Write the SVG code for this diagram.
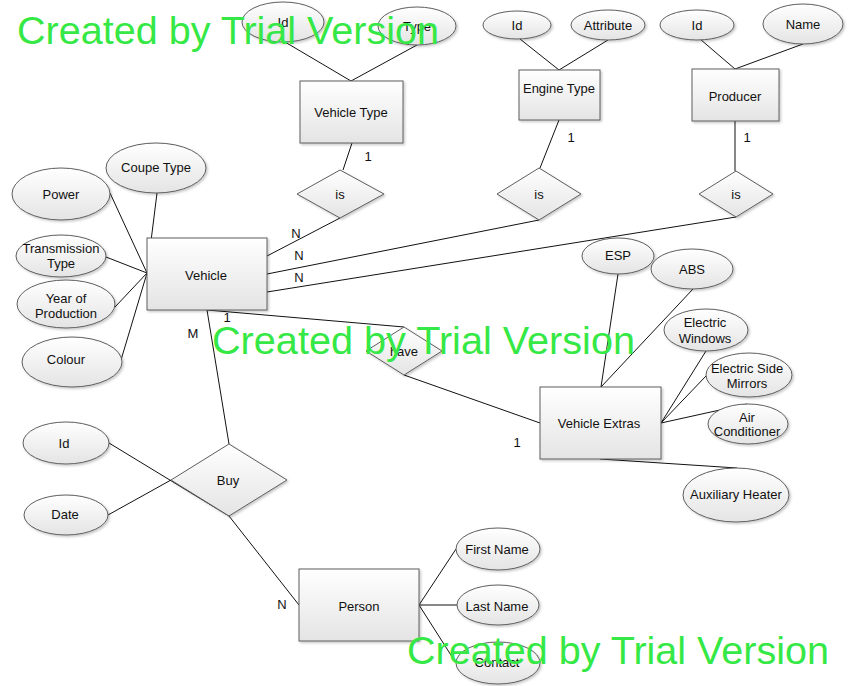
<svg xmlns="http://www.w3.org/2000/svg" width="849" height="686" viewBox="0 0 849 686">
<defs>
<linearGradient id="g" x1="0" y1="0" x2="0" y2="1">
<stop offset="0" stop-color="#ffffff"/>
<stop offset="1" stop-color="#e4e4e4"/>
</linearGradient>
<filter id="sh" x="-10%" y="-10%" width="130%" height="130%">
<feDropShadow dx="1.5" dy="1.5" stdDeviation="1" flood-color="#000" flood-opacity="0.22"/>
</filter>
</defs>
<style>
.s{fill:url(#g);stroke:#5e5e5e;stroke-width:1;filter:url(#sh)}
.t{font-family:"Liberation Sans",Arial,sans-serif;font-size:13px;fill:#111;text-anchor:middle;dominant-baseline:central}
.c{font-family:"Liberation Sans",Arial,sans-serif;font-size:13px;fill:#111;text-anchor:middle;dominant-baseline:central}
.l{stroke:#111;stroke-width:1;fill:none}
.w{font-family:"Liberation Sans",Arial,sans-serif;font-size:38px;fill:#35e845}
</style>
<rect width="849" height="686" fill="#ffffff"/>
<g id="connectors">
<line class="l" x1="285" y1="42" x2="351" y2="81"/>
<line class="l" x1="417" y1="45" x2="351" y2="81"/>
<line class="l" x1="352" y1="143" x2="343" y2="170"/>
<line class="l" x1="520" y1="39" x2="559" y2="70"/>
<line class="l" x1="608" y1="40" x2="559" y2="70"/>
<line class="l" x1="559" y1="120" x2="540" y2="168"/>
<line class="l" x1="700" y1="39" x2="735" y2="69"/>
<line class="l" x1="803" y1="44" x2="735" y2="69"/>
<line class="l" x1="735" y1="121" x2="735" y2="171"/>
<line class="l" x1="267" y1="256" x2="340" y2="218"/>
<line class="l" x1="267" y1="274" x2="539" y2="220"/>
<line class="l" x1="267" y1="292" x2="736" y2="217"/>
<line class="l" x1="157" y1="193" x2="147" y2="273"/>
<line class="l" x1="110" y1="193" x2="147" y2="273"/>
<line class="l" x1="106" y1="257" x2="147" y2="273"/>
<line class="l" x1="115" y1="307" x2="147" y2="273"/>
<line class="l" x1="121" y1="360" x2="147" y2="273"/>
<line class="l" x1="207" y1="310" x2="404" y2="327"/>
<line class="l" x1="404" y1="375" x2="540" y2="423"/>
<line class="l" x1="207" y1="310" x2="229" y2="444"/>
<line class="l" x1="618" y1="274" x2="601" y2="387"/>
<line class="l" x1="693" y1="289" x2="601" y2="387"/>
<line class="l" x1="706" y1="351" x2="661" y2="423"/>
<line class="l" x1="706" y1="376" x2="661" y2="423"/>
<line class="l" x1="747" y1="404" x2="661" y2="423"/>
<line class="l" x1="600" y1="459" x2="737" y2="468"/>
<line class="l" x1="109" y1="443" x2="229" y2="516"/>
<line class="l" x1="108" y1="515" x2="171" y2="480"/>
<line class="l" x1="229" y1="516" x2="299" y2="605"/>
<line class="l" x1="419" y1="605" x2="456" y2="549"/>
<line class="l" x1="419" y1="605" x2="457" y2="605"/>
<line class="l" x1="419" y1="605" x2="456" y2="663"/>
<text class="c" x="368" y="156">1</text>
<text class="c" x="571" y="137">1</text>
<text class="c" x="747" y="137">1</text>
<text class="c" x="296" y="233">N</text>
<text class="c" x="299" y="255">N</text>
<text class="c" x="299" y="277">N</text>
<text class="c" x="227" y="317">1</text>
<text class="c" x="517" y="442">1</text>
<text class="c" x="193" y="333">M</text>
<text class="c" x="282" y="604">N</text>
</g>
<g id="vehicle-type"><rect class="s" x="300" y="81" width="103" height="62"/><text class="t" x="351" y="112">Vehicle Type</text></g>
<g id="vt-id"><ellipse class="s" cx="283" cy="22" rx="41" ry="20"/><text class="t" x="283" y="22">Id</text></g>
<g id="vt-type"><ellipse class="s" cx="417" cy="26" rx="39" ry="19"/><text class="t" x="417" y="26">Type</text></g>
<g id="vt-is"><polygon class="s" points="297,194 340,170 384,194 340,218"/><text class="t" x="340" y="194">is</text></g>
<g id="engine-type"><rect class="s" x="519" y="70" width="81" height="50"/><text class="t" x="559" y="88">Engine Type</text></g>
<g id="et-id"><ellipse class="s" cx="517" cy="25" rx="34" ry="14"/><text class="t" x="517" y="25">Id</text></g>
<g id="et-attr"><ellipse class="s" cx="608" cy="25" rx="37" ry="15"/><text class="t" x="608" y="25">Attribute</text></g>
<g id="et-is"><polygon class="s" points="497,194 539,168 581,194 539,220"/><text class="t" x="539" y="194">is</text></g>
<g id="producer"><rect class="s" x="692" y="69" width="87" height="52"/><text class="t" x="735" y="96">Producer</text></g>
<g id="pr-id"><ellipse class="s" cx="697" cy="25" rx="37" ry="15"/><text class="t" x="697" y="25">Id</text></g>
<g id="pr-name"><ellipse class="s" cx="803" cy="24" rx="40" ry="20"/><text class="t" x="803" y="24">Name</text></g>
<g id="pr-is"><polygon class="s" points="699,194 736,171 773,194 736,217"/><text class="t" x="736" y="194">is</text></g>
<g id="vehicle"><rect class="s" x="147" y="238" width="120" height="72"/><text class="t" x="206" y="275">Vehicle</text></g>
<g id="coupe-type"><ellipse class="s" cx="156" cy="168" rx="50" ry="25"/><text class="t" x="156" y="167">Coupe Type</text></g>
<g id="power"><ellipse class="s" cx="61" cy="194" rx="49" ry="26"/><text class="t" x="61" y="194">Power</text></g>
<g id="transmission"><ellipse class="s" cx="61" cy="256" rx="45" ry="21"/><text class="t" x="61" y="248">Transmission</text><text class="t" x="61" y="263">Type</text></g>
<g id="year"><ellipse class="s" cx="66" cy="304" rx="49" ry="24"/><text class="t" x="66" y="298">Year of</text><text class="t" x="66" y="313">Production</text></g>
<g id="colour"><ellipse class="s" cx="72" cy="362" rx="50" ry="25"/><text class="t" x="66" y="359">Colour</text></g>
<g id="have"><polygon class="s" points="366,351 404,327 442,351 404,375"/><text class="t" x="404" y="351">have</text></g>
<g id="vehicle-extras"><rect class="s" x="540" y="387" width="121" height="72"/><text class="t" x="599" y="423">Vehicle Extras</text></g>
<g id="esp"><ellipse class="s" cx="618" cy="256" rx="36" ry="18"/><text class="t" x="618" y="255">ESP</text></g>
<g id="abs"><ellipse class="s" cx="692" cy="269" rx="41" ry="20"/><text class="t" x="692" y="269">ABS</text></g>
<g id="windows"><ellipse class="s" cx="706" cy="330" rx="42" ry="21"/><text class="t" x="705" y="322">Electric</text><text class="t" x="705" y="338">Windows</text></g>
<g id="mirrors"><ellipse class="s" cx="749" cy="375" rx="43" ry="22"/><text class="t" x="747" y="368">Electric Side</text><text class="t" x="747" y="383">Mirrors</text></g>
<g id="aircon"><ellipse class="s" cx="748" cy="424" rx="40" ry="20"/><text class="t" x="747" y="417">Air</text><text class="t" x="747" y="431">Conditioner</text></g>
<g id="aux-heater"><ellipse class="s" cx="736" cy="495" rx="53" ry="27"/><text class="t" x="736" y="494">Auxiliary Heater</text></g>
<g id="buy"><polygon class="s" points="171,480 229,444 287,480 229,516"/><text class="t" x="228" y="480">Buy</text></g>
<g id="buy-id"><ellipse class="s" cx="66" cy="443" rx="43" ry="21"/><text class="t" x="64" y="443">Id</text></g>
<g id="buy-date"><ellipse class="s" cx="66" cy="515" rx="42" ry="20"/><text class="t" x="65" y="514">Date</text></g>
<g id="person"><rect class="s" x="299" y="569" width="120" height="72"/><text class="t" x="359" y="606">Person</text></g>
<g id="first-name"><ellipse class="s" cx="498" cy="549" rx="42" ry="21"/><text class="t" x="497" y="549">First Name</text></g>
<g id="last-name"><ellipse class="s" cx="498" cy="605" rx="41" ry="20"/><text class="t" x="497" y="606">Last Name</text></g>
<g id="contact"><ellipse class="s" cx="498" cy="663" rx="42" ry="21"/><text class="t" x="497" y="662">Contact</text></g>
<g id="watermarks">
<text class="w" x="17" y="44" textLength="422" lengthAdjust="spacingAndGlyphs">Created by Trial Version</text>
<text class="w" x="212" y="354" textLength="423" lengthAdjust="spacingAndGlyphs">Created by Trial Version</text>
<text class="w" x="407" y="664" textLength="422" lengthAdjust="spacingAndGlyphs">Created by Trial Version</text>
</g>
</svg>
